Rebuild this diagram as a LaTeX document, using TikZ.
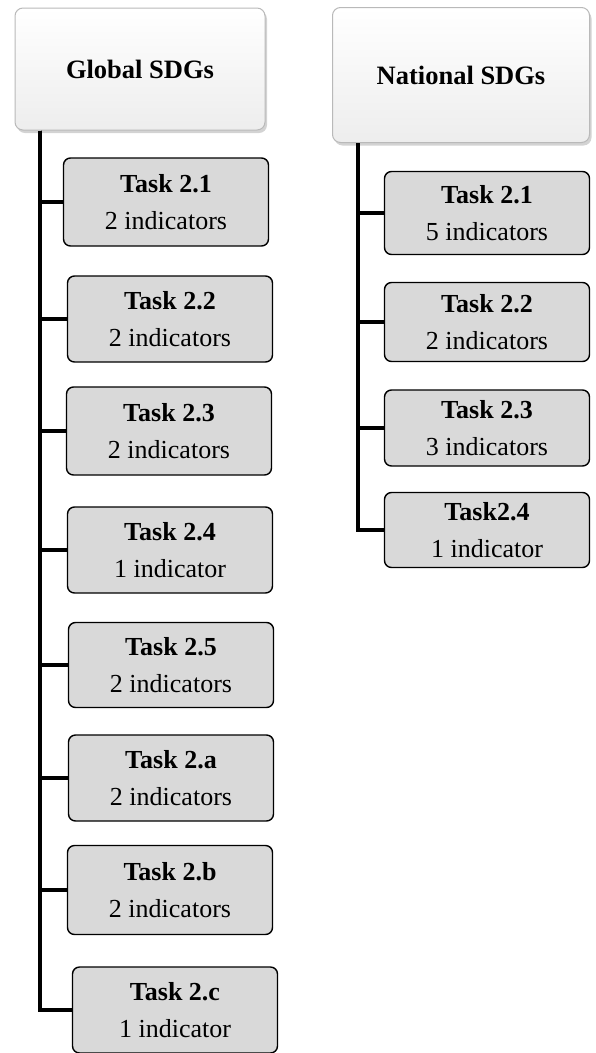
\documentclass[tikz,border=0pt]{standalone}
\usepackage{fontspec}
\setmainfont{Liberation Serif}
\usetikzlibrary{shadows}

\tikzset{
  head/.style={rectangle, rounded corners=8pt, draw=gray!55, line width=1pt,
    top color=white, bottom color=gray!14,
    drop shadow={opacity=0.35, shadow xshift=2pt, shadow yshift=-3pt},
    font=\fontsize{26.5}{30}\selectfont\bfseries},
  task/.style={rectangle, rounded corners=7pt, draw=black, line width=1.4pt,
    fill=gray!30, minimum width=205pt, align=center, inner sep=2pt,
    font=\fontsize{26}{37}\selectfont},
  trunk/.style={line width=3.8pt, black}
}

\begin{document}
\begin{tikzpicture}[x=1pt, y=-1pt]
        \useasboundingbox (0,0) rectangle (595,1053);

        % Headers
        \node (glob) [head, minimum width=250pt, minimum height=122pt] at (140, 69) {Global SDGs};
        \node (nat) [head, minimum width=257pt, minimum height=135pt] at (461, 75) {National SDGs};

        % Global tasks
        \node (g1) [task, minimum height=88pt] at (166, 202) {\textbf{Task 2.1}\\2 indicators};
        \node (g2) [task, minimum height=86pt] at (170, 319) {\textbf{Task 2.2}\\2 indicators};
        \node (g3) [task, minimum height=88pt] at (169, 431) {\textbf{Task 2.3}\\2 indicators};
        \node (g4) [task, minimum height=86pt] at (170, 550) {\textbf{Task 2.4}\\1 indicator};
        \node (g5) [task, minimum height=85pt] at (171, 665) {\textbf{Task 2.5}\\2 indicators};
        \node (g6) [task, minimum height=86pt] at (171, 778) {\textbf{Task 2.a}\\2 indicators};
        \node (g7) [task, minimum height=89pt] at (170, 890) {\textbf{Task 2.b}\\2 indicators};
        \node (g8) [task, minimum height=86pt] at (175, 1010) {\textbf{Task 2.c}\\1 indicator};

        % National tasks
        \node (n1) [task, minimum height=83pt] at (487, 213) {\textbf{Task 2.1}\\5 indicators};
        \node (n2) [task, minimum height=79pt] at (487, 322) {\textbf{Task 2.2}\\2 indicators};
        \node (n3) [task, minimum height=76pt] at (487, 428) {\textbf{Task 2.3}\\3 indicators};
        \node (n4) [task, minimum height=75pt] at (487, 530) {\textbf{Task2.4}\\1 indicator};

        % Trunks
        \coordinate (gtop) at (glob.south -| 40, 0);
        \coordinate (ntop) at (nat.south -| 358, 0);

        % Edges
        \foreach \i in {1,...,8}
          \draw[trunk] (gtop) |- (g\i.west);
        \foreach \i in {1,...,4}
          \draw[trunk] (ntop) |- (n\i.west);

    \end{tikzpicture}
\end{document}
